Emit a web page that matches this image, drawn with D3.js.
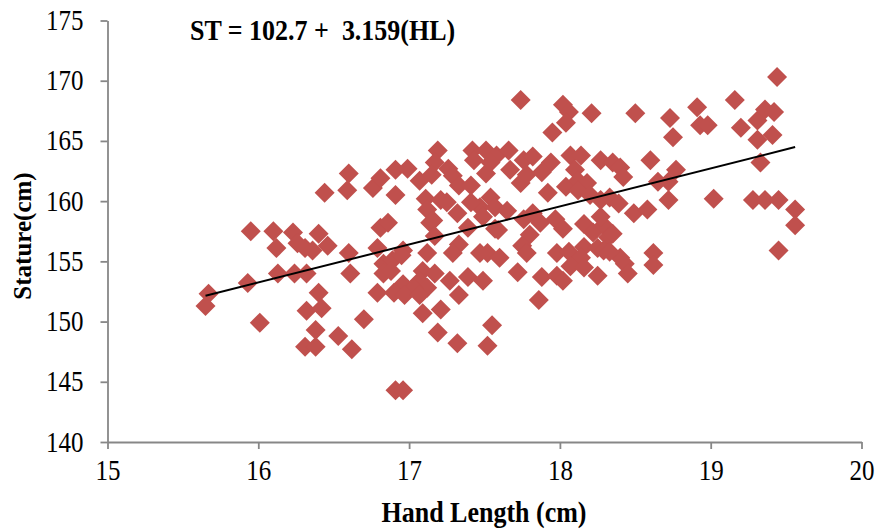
<!DOCTYPE html>
<html>
<head>
<meta charset="utf-8">
<script src="https://cdn.jsdelivr.net/npm/d3@7"></script>
<style>
  html, body { margin: 0; padding: 0; background: #fff; }
  svg { display: block; }
</style>
</head>
<body>
<svg id="chart" width="879" height="532"></svg>
<script>
// ---- data ----
const handLength = [
  15.67,15.65,15.93,16.01,15.95,16.10,16.12,16.13,16.23,16.26,16.24,16.31,16.36,16.40,16.46,16.32,16.40,16.32,16.42,16.38,
  16.31,16.38,16.53,16.44,16.59,16.60,16.60,16.61,16.62,16.70,16.76,16.81,16.91,16.99,17.07,16.91,17.11,16.81,16.86,16.79,
  16.96,17.12,16.91,16.96,16.83,16.89,16.95,16.83,16.88,17.09,17.07,17.12,16.96,17.03,16.79,16.90,16.97,17.07,17.09,17.14,
  17.12,17.19,17.42,17.51,17.58,17.17,17.26,17.15,17.29,17.43,17.51,17.21,17.33,17.41,17.54,17.47,17.57,17.16,17.39,17.57,
  17.17,17.33,17.52,17.60,17.54,17.25,17.32,17.41,17.49,17.47,17.17,17.27,17.39,17.49,17.33,17.29,17.21,17.19,17.32,17.55,
  17.52,17.74,18.02,18.06,18.04,17.95,18.21,18.50,17.66,17.76,17.82,17.94,17.88,17.67,18.07,18.14,18.10,18.27,18.35,18.40,
  18.42,17.74,17.78,17.92,18.04,18.12,18.18,18.12,18.20,18.27,18.33,18.39,17.65,17.76,17.82,17.87,17.97,18.02,18.16,18.22,
  18.29,18.32,18.27,17.80,17.59,17.75,17.98,18.06,18.16,18.14,18.25,18.29,18.40,17.72,17.88,17.98,18.02,18.07,18.16,18.25,
  17.86,18.33,18.43,18.45,18.62,18.62,18.49,18.58,18.60,18.77,18.72,18.65,18.72,18.35,18.73,18.75,18.91,18.93,18.98,19.16,
  19.20,19.02,19.44,19.31,19.36,19.42,19.31,19.41,19.33,19.28,19.36,19.45,19.56,19.56,19.45,17.78
];
const stature = [
  152.3,151.3,153.2,149.9,157.5,157.5,156.1,154.0,157.4,156.5,154.0,156.1,155.9,157.3,156.3,154.0,152.4,150.9,151.1,149.3,
  147.9,147.9,148.8,160.7,160.9,162.3,155.7,154.0,147.7,150.2,161.1,161.9,162.6,162.7,161.7,160.5,160.2,157.8,158.2,156.1,
  155.9,155.7,144.3,144.3,154.8,155.1,155.5,154.0,154.2,154.2,153.4,152.8,153.1,152.8,152.4,152.4,152.2,152.2,150.7,158.2,
  159.3,164.2,164.2,164.2,163.8,163.2,162.7,162.2,162.1,163.4,162.3,160.1,161.3,161.3,160.3,159.5,159.5,158.4,157.8,157.7,
  157.1,156.4,155.7,155.3,163.2,159.9,159.0,159.9,158.7,155.7,154.0,153.4,153.7,153.4,152.2,155.7,151.0,149.1,148.2,149.7,
  148.0,168.4,168.0,167.4,166.5,165.7,167.3,167.3,164.2,163.4,163.7,163.2,162.4,162.6,163.8,163.8,162.6,163.4,163.2,162.8,
  162.0,161.5,162.2,160.7,161.2,161.7,161.5,160.9,160.5,160.1,160.3,159.8,159.2,158.5,159.0,158.2,158.5,157.7,158.1,157.4,
  158.0,157.0,158.7,157.2,157.6,156.3,155.7,155.8,156.2,155.3,156.1,155.9,155.3,154.1,153.7,153.8,153.4,154.6,154.5,153.8,
  151.8,155.8,154.8,154.0,155.7,154.7,159.0,159.3,163.4,162.6,161.6,161.6,160.1,157.3,166.9,165.3,167.8,166.3,166.3,168.4,
  166.1,160.2,170.3,166.7,167.6,167.4,165.1,165.5,163.2,160.1,160.1,160.1,159.3,158.0,155.9,155.7
];
const xTicks = [15, 16, 17, 18, 19, 20];
const yTicks = [140, 145, 150, 155, 160, 165, 170, 175];
const fitIntercept = 102.7;
const fitSlope = 3.159;
const fitRange = [15.65, 19.56];
const equationLabel = "ST = 102.7 +  3.159(HL)";
const xTitle = "Hand Length (cm)";
const yTitle = "Stature(cm)";

// ---- drawing ----
const svg = d3.select("#chart");
const x = d3.scaleLinear().domain([15, 20]).range([107.5, 861.5]);
const y = d3.scaleLinear().domain([140, 175]).range([442, 20.5]);
const FONT = "'Liberation Serif', 'Times New Roman', serif";
const AXIS = "#878787";
const STRETCH = 1.17;

svg.append("rect").attr("width", 879).attr("height", 532).attr("fill", "#fff");

// y axis
const gy = svg.append("g").attr("transform", `translate(${x(15)},0)`)
  .call(d3.axisLeft(y).tickValues(yTicks).tickSize(7).tickSizeOuter(0).tickFormat(d3.format("d")));
gy.select(".domain").attr("stroke", AXIS).attr("stroke-width", 1.8);
gy.selectAll(".tick line").attr("stroke", AXIS).attr("stroke-width", 1.8);
gy.selectAll(".tick text")
  .attr("x", null).attr("dy", null)
  .attr("transform", `translate(-24,9) scale(1,${STRETCH})`)
  .attr("text-anchor", "end")
  .attr("fill", "#000")
  .style("font-family", FONT).style("font-size", "25px");

// x axis
const gx = svg.append("g").attr("transform", `translate(0,${y(140)})`)
  .call(d3.axisBottom(x).tickValues(xTicks).tickSize(7).tickSizeOuter(0).tickFormat(d3.format("d")));
gx.select(".domain").attr("stroke", AXIS).attr("stroke-width", 1.8);
gx.selectAll(".tick line").attr("stroke", AXIS).attr("stroke-width", 1.8);
gx.selectAll(".tick text")
  .attr("y", null).attr("dy", null)
  .attr("transform", `translate(0,38) scale(1,${STRETCH})`)
  .attr("text-anchor", "middle")
  .attr("fill", "#000")
  .style("font-family", FONT).style("font-size", "25px");

// points
const pts = handLength.map((h, i) => ({ h, s: stature[i] }));
const diamond = d3.symbol().type(d3.symbolSquare).size(200);
svg.append("g").selectAll("path").data(pts).join("path")
  .attr("d", diamond)
  .attr("transform", d => `translate(${x(d.h)},${y(d.s)}) rotate(45)`)
  .attr("fill", "#C0504D");

// regression line
const line = d3.line().x(d => x(d)).y(d => y(fitIntercept + fitSlope * d));
svg.append("path").datum(fitRange).attr("d", line)
  .attr("stroke", "#000").attr("stroke-width", 2).attr("fill", "none");

// equation
svg.append("text")
  .attr("transform", `translate(190,40) scale(1,${STRETCH})`)
  .style("font-family", FONT).style("font-size", "26px").style("font-weight", "bold")
  .attr("xml:space", "preserve").style("white-space", "pre")
  .text(equationLabel);

// x title
svg.append("text")
  .attr("transform", `translate(484,522) scale(1,${STRETCH})`)
  .attr("text-anchor", "middle")
  .style("font-family", FONT).style("font-size", "26px").style("font-weight", "bold")
  .text(xTitle);

// y title
svg.append("text")
  .attr("transform", `translate(31,236) rotate(-90)`)
  .attr("text-anchor", "middle")
  .style("font-family", FONT).style("font-size", "25px").style("font-weight", "bold")
  .text(yTitle);
</script>
</body>
</html>
